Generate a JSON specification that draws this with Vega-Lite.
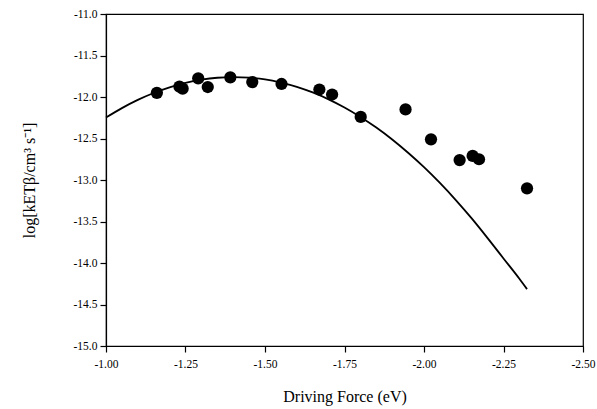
{
  "$schema": "https://vega.github.io/schema/vega-lite/v6.json",
  "width": 477,
  "height": 332,
  "autosize": {"type": "none"},
  "padding": {"left": 106, "top": 14, "right": 14, "bottom": 63},
  "background": "white",
  "config": {
    "view": {"stroke": "#000000", "strokeWidth": 1.2},
    "font": "Liberation Serif",
    "axis": {
      "grid": false,
      "domainColor": "#000000",
      "domainWidth": 1.2,
      "tickColor": "#000000",
      "tickWidth": 1.2,
      "tickSize": 6,
      "labelFlush": false,
      "labelFont": "Liberation Serif",
      "labelFontSize": 11.5,
      "labelColor": "#000000",
      "titleFont": "Liberation Serif",
      "titleFontSize": 16,
      "titleFontWeight": "normal",
      "titleColor": "#000000"
    }
  },
  "datasets": {
    "points": [
      {"force": -1.160, "logk": -11.95},
      {"force": -1.231, "logk": -11.875},
      {"force": -1.241, "logk": -11.90},
      {"force": -1.290, "logk": -11.775},
      {"force": -1.320, "logk": -11.88},
      {"force": -1.391, "logk": -11.763},
      {"force": -1.460, "logk": -11.82},
      {"force": -1.552, "logk": -11.843},
      {"force": -1.671, "logk": -11.91},
      {"force": -1.711, "logk": -11.97},
      {"force": -1.801, "logk": -12.24},
      {"force": -1.942, "logk": -12.15},
      {"force": -2.022, "logk": -12.51},
      {"force": -2.112, "logk": -12.76},
      {"force": -2.153, "logk": -12.71},
      {"force": -2.173, "logk": -12.75},
      {"force": -2.324, "logk": -13.10}
    ],
    "curve": [
      {"force": -1.00, "logk": -12.248},
      {"force": -1.05, "logk": -12.134},
      {"force": -1.10, "logk": -12.035},
      {"force": -1.15, "logk": -11.952},
      {"force": -1.20, "logk": -11.884},
      {"force": -1.25, "logk": -11.830},
      {"force": -1.30, "logk": -11.792},
      {"force": -1.35, "logk": -11.768},
      {"force": -1.40, "logk": -11.760},
      {"force": -1.45, "logk": -11.767},
      {"force": -1.50, "logk": -11.788},
      {"force": -1.55, "logk": -11.826},
      {"force": -1.60, "logk": -11.877},
      {"force": -1.65, "logk": -11.945},
      {"force": -1.70, "logk": -12.028},
      {"force": -1.75, "logk": -12.126},
      {"force": -1.80, "logk": -12.240},
      {"force": -1.85, "logk": -12.368},
      {"force": -1.90, "logk": -12.512},
      {"force": -1.95, "logk": -12.672},
      {"force": -2.00, "logk": -12.846},
      {"force": -2.05, "logk": -13.036},
      {"force": -2.10, "logk": -13.242},
      {"force": -2.15, "logk": -13.463},
      {"force": -2.20, "logk": -13.700},
      {"force": -2.25, "logk": -13.945},
      {"force": -2.30, "logk": -14.190},
      {"force": -2.324, "logk": -14.315}
    ]
  },
  "encoding": {
    "x": {
      "field": "force",
      "type": "quantitative",
      "scale": {"domain": [-2.5, -1.0], "reverse": true, "nice": false, "zero": false},
      "axis": {
        "title": "Driving Force (eV)",
        "values": [-1.0, -1.25, -1.5, -1.75, -2.0, -2.25, -2.5],
        "labelExpr": "'-' + format(-datum.value, '.2f')",
        "labelFont": "Liberation Serif",
        "labelFlush": false,
        "labelPadding": 6,
        "titlePadding": 19
      }
    },
    "y": {
      "field": "logk",
      "type": "quantitative",
      "scale": {"domain": [-15.0, -11.0], "nice": false, "zero": false},
      "axis": {
        "title": "log[kETβ/cm³ s⁻¹]",
        "values": [-11.0, -11.5, -12.0, -12.5, -13.0, -13.5, -14.0, -14.5, -15.0],
        "labelExpr": "'-' + format(-datum.value, '.1f')",
        "labelFont": "Liberation Serif",
        "labelFlush": false,
        "labelPadding": 3,
        "titlePadding": 36
      }
    }
  },
  "layer": [
    {
      "data": {"name": "curve"},
      "mark": {"type": "line", "color": "#000000", "strokeWidth": 1.8, "interpolate": "monotone"}
    },
    {
      "data": {"name": "points"},
      "mark": {"type": "circle", "color": "#000000", "opacity": 1, "size": 150}
    }
  ]
}
